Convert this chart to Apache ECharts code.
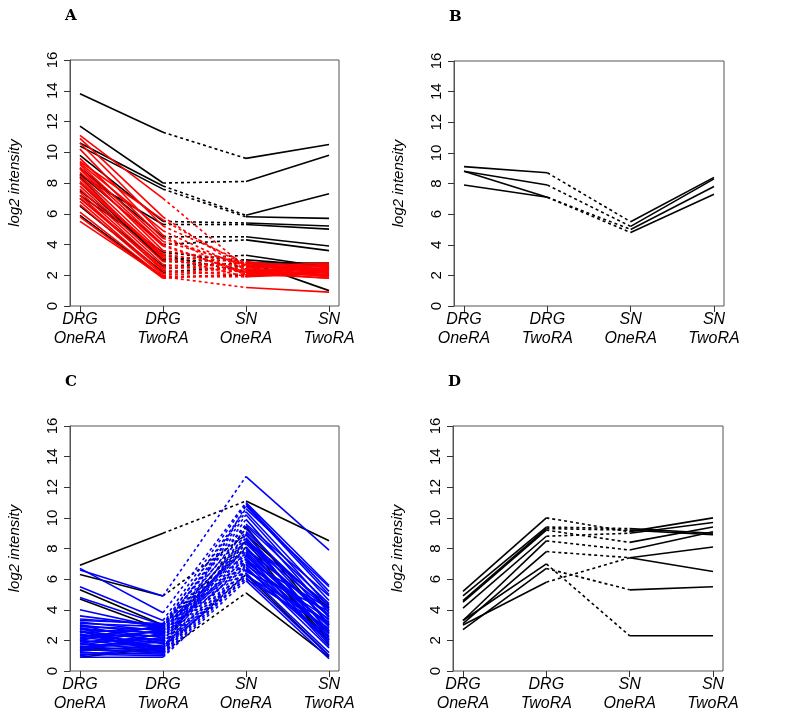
<!DOCTYPE html>
<html>
<head>
<meta charset="utf-8">
<script src="https://cdn.jsdelivr.net/npm/echarts@6/dist/echarts.min.js"></script>
<style>
  html, body { margin: 0; background: #fff; }
  #chart { width: 808px; height: 716px; }
</style>
</head>
<body>
<div id="chart"></div>
<script>
// stages along x
const stages = ['DRG\nOneRA', 'DRG\nTwoRA', 'SN\nOneRA', 'SN\nTwoRA']
const yTicks = [0, 2, 4, 6, 8, 10, 12, 14, 16]

// panel A
const aBlack = [
  [13.8, 11.3, 9.6, 10.5], [11.7, 8.0, 8.1, 9.8], [10.6, 7.8, 5.9, 7.3], [10.4, 7.6, 5.8, 5.7],
  [9.8, 5.5, 5.4, 5.2], [8.5, 5.3, 5.3, 5.0], [9.0, 4.5, 4.5, 3.9], [8.6, 4.0, 4.3, 3.6],
  [7.2, 3.5, 2.9, 1.0], [8.0, 3.0, 3.3, 2.5], [7.0, 2.6, 2.8, 2.8], [6.5, 2.2, 2.6, 2.4],
  [5.9, 1.9, 2.0, 2.2], [8.4, 2.9, 3.0, 2.6], [7.5, 3.3, 2.2, 2.0]
]
const aRed = [
  [11.1, 7.0, 2.5, 2.7], [10.9, 5.8, 2.3, 2.4], [10.6, 5.2, 2.8, 2.6], [10.2, 4.6, 2.0, 2.2],
  [9.4, 5.6, 2.6, 2.8], [9.3, 4.9, 2.4, 1.9], [9.2, 4.2, 2.7, 2.3], [9.0, 4.0, 2.1, 2.5],
  [8.9, 3.6, 2.9, 2.1], [8.7, 3.9, 2.2, 1.8], [8.5, 3.4, 2.5, 2.6], [8.3, 3.1, 2.3, 2.0],
  [8.0, 3.2, 1.9, 2.4], [7.8, 2.9, 2.6, 2.2], [7.6, 2.7, 2.2, 2.7], [7.4, 2.5, 2.4, 1.9],
  [7.2, 2.3, 2.0, 2.3], [7.0, 2.4, 2.8, 2.5], [6.8, 2.1, 2.5, 2.0], [6.6, 2.0, 2.3, 2.6],
  [6.1, 1.9, 1.9, 2.1], [5.8, 1.8, 2.1, 1.8], [5.5, 1.9, 1.2, 0.9], [9.6, 4.4, 2.6, 2.4],
  [8.1, 3.3, 2.8, 2.2]
]

// panel B
const bBlack = [
  [9.1, 8.7, 5.5, 8.4], [8.8, 7.9, 5.2, 8.3], [8.8, 7.1, 4.8, 7.3], [7.9, 7.1, 5.0, 7.8]
]

// panel C
const cBlack = [
  [6.9, 9.0, 11.1, 8.5], [6.3, 4.9, 8.9, 4.1], [5.3, 3.0, 8.5, 1.7], [4.7, 2.7, 8.1, 2.0],
  [1.5, 1.4, 6.3, 1.0], [1.4, 1.2, 5.1, 0.9], [0.9, 1.5, 9.4, 3.0], [2.6, 1.5, 7.2, 2.5]
]
const cBlue = [
  [6.6, 4.9, 12.7, 7.9], [6.7, 3.8, 11.0, 5.6], [5.5, 3.3, 10.9, 5.2], [4.8, 3.0, 10.6, 5.5],
  [4.0, 2.8, 10.2, 4.2], [3.6, 2.9, 9.9, 3.8], [3.4, 3.0, 9.6, 4.9], [3.2, 2.6, 9.3, 3.5],
  [3.1, 2.9, 9.1, 4.0], [3.0, 2.4, 8.9, 3.1], [2.9, 2.7, 8.7, 2.6], [2.8, 2.2, 8.5, 4.3],
  [2.7, 2.5, 8.3, 3.3], [2.6, 2.0, 8.1, 2.2], [2.5, 2.8, 7.9, 3.7], [2.4, 1.8, 7.8, 2.9],
  [2.3, 2.3, 7.6, 1.8], [2.2, 1.6, 7.5, 3.0], [2.1, 2.6, 7.3, 2.4], [2.0, 1.5, 7.2, 4.1],
  [1.9, 2.1, 7.0, 2.0], [1.8, 1.4, 6.9, 3.4], [1.7, 2.4, 6.8, 1.5], [1.6, 1.3, 6.6, 2.7],
  [1.5, 1.9, 6.5, 3.9], [1.4, 1.2, 6.4, 1.2], [1.3, 1.7, 6.3, 2.3], [1.2, 1.1, 6.2, 3.2],
  [1.1, 1.0, 6.1, 1.0], [1.0, 1.6, 6.0, 2.8], [0.9, 0.9, 5.9, 0.8], [3.3, 3.1, 10.4, 4.6],
  [2.8, 1.3, 9.0, 2.1], [2.2, 2.9, 8.0, 3.6], [1.8, 2.7, 7.7, 2.5], [1.5, 2.2, 7.4, 1.6],
  [2.6, 1.2, 6.7, 1.9], [3.0, 1.8, 8.6, 2.6], [2.0, 3.0, 9.5, 4.4], [1.3, 2.5, 7.1, 3.1],
  [2.4, 1.4, 10.8, 5.0], [1.6, 2.0, 8.4, 4.0]
]

// panel D
const dBlack = [
  [5.2, 10.0, 9.1, 10.0], [4.9, 9.4, 9.3, 9.0], [4.6, 9.3, 9.2, 8.9], [4.5, 9.2, 8.4, 9.4],
  [4.1, 8.8, 9.0, 9.7], [3.3, 8.5, 7.9, 9.1], [3.1, 7.8, 7.4, 6.5], [3.3, 7.0, 2.3, 2.3],
  [2.7, 6.7, 5.3, 5.5], [3.0, 5.8, 7.4, 8.1]
]

const panels = [
  { label: 'A', grid: { left: 70, top: 60, width: 269, height: 246 }, groups: [[aBlack, '#000'], [aRed, '#ff0000']] },
  { label: 'B', grid: { left: 454, top: 61, width: 270, height: 245 }, groups: [[bBlack, '#000']] },
  { label: 'C', grid: { left: 70, top: 426, width: 269, height: 245 }, groups: [[cBlack, '#000'], [cBlue, '#0000ff']] },
  { label: 'D', grid: { left: 453, top: 426, width: 270, height: 245 }, groups: [[dBlack, '#000']] }
]

const grids = []
const xAxes = []
const yAxes = []
const series = []
const texts = []

panels.forEach((p, i) => {
  grids.push(Object.assign({ show: true, borderColor: '#555', borderWidth: 1 }, p.grid))
  xAxes.push({
    gridIndex: i, type: 'value', min: 0.88, max: 4.12,
    splitLine: { show: false },
    axisLine: { show: false },
    axisTick: { show: true, customValues: [1, 2, 3, 4], length: 6, lineStyle: { color: '#333' } },
    axisLabel: {
      customValues: [1, 2, 3, 4], margin: 4, color: '#000', fontStyle: 'italic',
      fontFamily: 'Liberation Sans', fontSize: 16, lineHeight: 19,
      formatter: v => stages[Math.round(v) - 1]
    }
  })
  yAxes.push({
    gridIndex: i, type: 'value', min: 0, max: 16, interval: 2,
    name: 'log2 intensity', nameLocation: 'middle', nameGap: 48,
    nameTextStyle: { fontStyle: 'italic', fontFamily: 'Liberation Sans', fontSize: 15, color: '#000' },
    splitLine: { show: false },
    axisLine: { show: true, lineStyle: { color: '#555' } },
    axisTick: { show: true, length: 6, lineStyle: { color: '#333' } },
    axisLabel: { rotate: 90, margin: 10, color: '#000', fontFamily: 'Liberation Sans', fontSize: 15 }
  })
  texts.push({
    type: 'text', left: p.grid.left - 5, top: p.grid.top - 51,
    style: { text: p.label, font: 'bold 15px "DejaVu Serif"', fill: '#000' }
  })
  p.groups.forEach(([rows, color]) => {
    rows.forEach(r => {
      const segs = [[0, 1, 'solid'], [1, 2, [3, 3]], [2, 3, 'solid']]
      segs.forEach(([a, b, type]) => {
        series.push({
          type: 'line', xAxisIndex: i, yAxisIndex: i, silent: true,
          symbol: 'none', animation: false,
          lineStyle: { color: color, width: 1.6, type: type },
          data: [[a + 1, r[a]], [b + 1, r[b]]]
        })
      })
    })
  })
})

const chart = echarts.init(document.getElementById('chart'))
chart.setOption({
  animation: false,
  backgroundColor: '#fff',
  grid: grids,
  xAxis: xAxes,
  yAxis: yAxes,
  series: series,
  graphic: texts
})
</script>
</body>
</html>
